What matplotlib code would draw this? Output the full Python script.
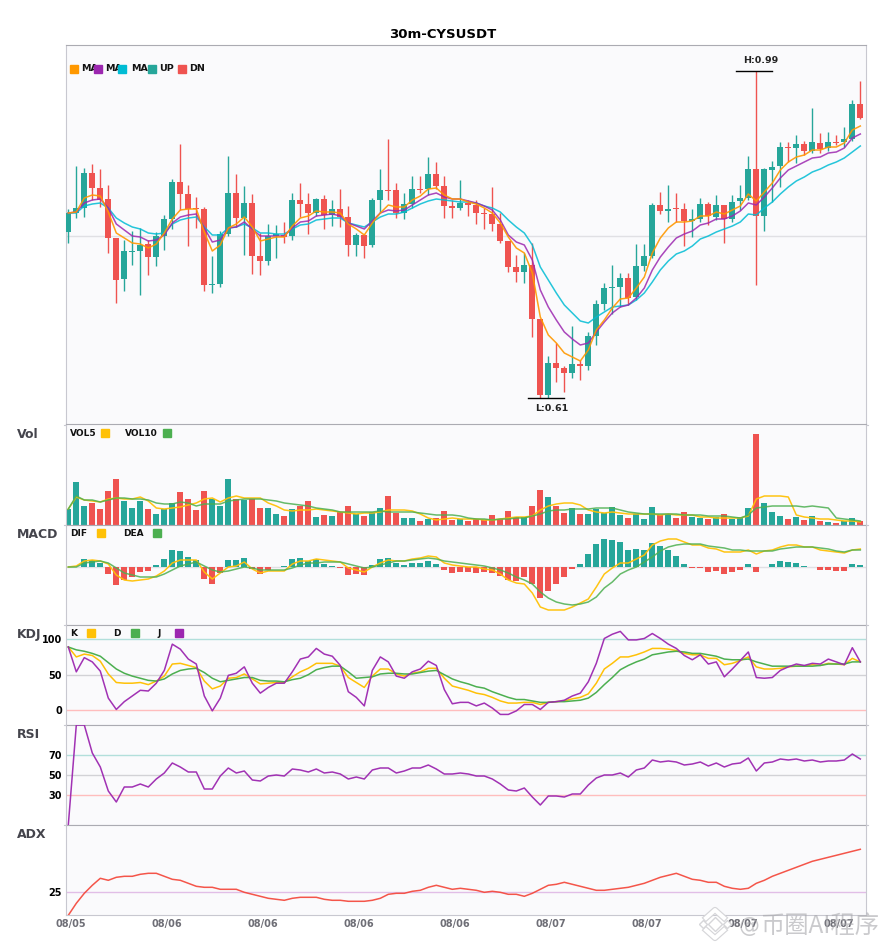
# -*- coding: UTF-8 -*-
import numpy as np
import matplotlib
matplotlib.use('Agg')
import matplotlib.pyplot as plt
import matplotlib.patheffects as pe
from matplotlib.lines import Line2D
from matplotlib.patches import Rectangle
from matplotlib.transforms import ScaledTranslation

# price data is read as steps above the session low, one step = PRICE_STEP
PRICE_LOW = 0.61
PRICE_HIGH = 0.99
open_steps = [166,185,190,225,210,199,160,119,146,147,154,141,162,179,216,204,190,189,113,114,
              164,205,180,195,142,137,162,163,162,198,194,185,199,183,189,181,153,163,153,198,
              208,208,185,194,209,209,224,212,192,190,195,193,185,184,174,157,131,126,133,79,
              3,35,30,25,34,32,62,94,110,111,120,101,132,142,193,187,190,189,177,179,
              194,181,193,179,197,200,229,182,228,232,251,250,254,247,255,250,256,256,259,294]
close_steps = [185,190,225,210,198,160,118,147,147,153,141,162,179,216,204,189,189,113,114,164,
               205,180,195,142,137,162,164,161,198,194,185,199,183,189,181,153,163,152,198,208,
               207,185,194,209,208,224,212,192,190,195,193,185,184,174,157,131,126,133,79,3,
               35,30,25,34,32,62,94,110,111,120,100,132,142,193,187,189,189,177,179,194,
               182,193,179,196,200,229,182,229,231,251,250,254,247,256,249,256,255,259,294,280]
high_steps = [189,232,230,234,229,213,160,158,167,170,158,166,183,219,254,213,201,191,142,167,
              242,224,212,204,165,174,173,176,205,215,205,200,203,198,209,192,165,164,200,229,
              259,215,205,222,222,241,236,222,198,218,198,198,190,211,185,157,143,145,155,79,
              42,55,32,72,38,66,98,115,133,125,125,154,154,195,206,213,205,195,189,200,
              196,203,193,203,213,242,327,230,237,256,256,263,257,290,265,266,263,271,298,317]
low_steps = [155,180,181,198,191,145,95,107,133,103,123,132,148,169,188,152,170,107,105,111,
             162,171,143,124,123,133,140,155,158,181,164,182,169,172,171,142,142,140,151,185,
             198,180,179,190,205,203,209,180,180,188,182,174,169,167,155,126,116,115,61,0,
             0,16,6,20,18,28,53,88,84,91,93,98,127,140,184,176,176,152,161,176,
             173,178,155,176,188,198,113,167,196,211,236,235,243,245,245,247,253,251,257,279]

ma5_steps = [185,186,200,203,202,186,165,160,155,154,150,154,165,179,188,189,189,166,147,153,
             170,174,181,171,157,159,161,161,172,180,182,187,186,186,185,174,169,163,175,185,
             193,191,191,198,202,209,210,203,199,199,196,194,190,185,175,161,150,145,125,81,
             63,55,45,41,37,48,68,78,90,99,100,110,121,145,160,170,176,176,177,182,
             182,186,184,188,192,204,197,206,215,228,236,241,243,248,248,251,251,255,268,272]
ma10_steps = [185,186,195,198,199,190,174,168,162,161,157,158,163,175,181,183,184,170,156,158,
              170,171,176,169,162,162,162,162,170,176,177,182,183,184,182,175,172,169,177,185,
              188,187,188,193,198,203,205,201,199,199,197,195,192,188,178,163,156,153,138,108,
              91,78,66,59,53,55,66,76,85,91,93,100,110,128,141,151,160,164,167,173,
              175,179,179,182,187,195,193,201,210,220,228,232,236,240,241,245,246,250,260,264]
ma20_steps = [185,185,192,194,195,190,180,175,171,169,165,164,165,174,178,180,181,171,163,163,
              170,171,174,170,165,165,164,164,169,173,174,178,179,180,180,175,173,171,176,181,
              184,184,186,190,194,197,199,198,197,196,196,195,192,190,186,178,171,165,153,131,
              118,105,93,85,77,75,81,86,91,92,93,98,105,116,128,137,144,147,152,159,
              162,166,169,172,176,184,183,190,196,204,211,217,221,226,229,233,236,240,246,252]

volume = [16,43,19,22,16,34,46,24,17,24,16,11,16,22,33,26,15,34,26,19,
          46,26,25,26,17,17,11,9,16,19,24,8,10,9,13,19,11,9,13,17,
          29,12,7,7,4,6,7,14,5,6,4,6,5,10,6,14,8,8,19,35,
          28,19,12,17,11,11,16,12,18,10,7,11,6,18,10,11,7,13,8,7,
          6,8,11,6,8,17,91,22,13,9,6,8,5,9,4,3,2,4,7,4]
vol5 = [16,28,25,24,23,26,27,26,26,28,24,17,16,17,18,20,22,26,27,23,
        27,29,27,27,27,22,19,15,14,15,15,16,15,14,13,12,11,12,12,13,
        15,15,15,14,11,7,5,6,7,6,6,6,5,5,6,7,8,8,9,15,
        19,21,22,22,20,15,13,12,13,12,11,11,11,11,10,11,10,10,10,8,
        8,7,7,7,7,9,26,29,29,29,28,10,8,7,6,6,5,4,4,3]
vol10 = [16,29,25,25,23,25,27,27,26,26,25,22,21,21,23,22,19,21,21,21,
         24,25,26,26,26,25,24,22,21,20,19,17,16,15,13,13,13,13,13,14,
         13,13,13,13,12,11,10,10,10,9,7,6,6,5,6,6,7,7,9,11,
         14,15,15,16,16,16,17,17,17,15,13,12,11,11,11,11,11,10,10,10,
         9,9,9,8,7,10,17,18,19,19,19,19,18,19,18,17,7,6,5,4]

macd_hist = [0,0,8,7,4,-7,-18,-13,-10,-5,-4,2,8,17,16,10,7,-12,-17,-6,
             7,7,9,-2,-7,-3,0,1,8,9,6,8,3,1,-1,-8,-7,-8,2,8,
             9,4,2,4,4,6,3,-3,-6,-5,-5,-6,-5,-6,-9,-13,-14,-10,-17,-31,
             -24,-17,-10,-2,3,13,23,28,27,25,17,18,17,24,21,17,11,3,-0.5,-0.5,
             -5,-4,-7,-5,-3,3,-5,0,3,6,5,4,1,0,-3,-3,-4,-4,3,2]
dif = [0,1,6,7,6,3,-8,-13,-14,-13,-12,-9,-4,4,7,7,7,-5,-12,-6,
       0,1,5,-2,-6,-4,-4,-4,3,6,6,8,7,6,5,-1,-3,-5,0,4,
       7,6,6,8,9,11,10,4,2,1,0,0,-2,-3,-7,-13,-16,-17,-26,-40,
       -43,-43,-43,-40,-36,-32,-20,-7,-1,4,4,8,12,22,26,28,28,25,22,22,
       19,18,15,15,15,17,13,16,17,20,22,22,20,20,17,16,15,14,17,18]
dea = [0,0,4,5,6,4,-1,-6,-8,-10,-10,-10,-7,-3,1,3,5,1,-3,-5,
       -4,-2,0,-1,-3,-3,-3,-3,-1,2,4,4,5,5,5,3,1,-1,0,2,
       4,6,6,7,8,9,8,6,5,4,3,2,1,-1,-3,-6,-10,-13,-17,-25,
       -31,-35,-37,-38,-37,-35,-30,-21,-15,-7,-3,0,5,10,16,20,22,23,23,23,
       21,20,19,17,17,16,16,16,16,18,19,20,20,20,19,18,16,15,17,17]

kdj_k = [89,75,79,77,69,51,39,38,38,39,36,41,48,65,66,63,60,41,30,34,
         45,46,51,44,37,38,39,39,47,54,59,66,66,66,62,46,39,32,48,58,
         58,51,48,52,54,59,59,45,34,31,28,24,22,18,13,10,10,11,11,8,
         11,12,13,16,18,23,38,58,66,75,75,78,82,87,87,86,84,80,78,78,
         73,73,64,66,70,75,61,58,58,59,61,62,62,64,63,66,65,64,73,68]
kdj_d = [89,85,83,80,76,67,58,52,48,45,42,41,44,51,56,58,59,53,45,40,
         42,44,46,46,42,41,41,40,43,45,50,57,60,62,62,54,45,46,47,51,
         52,52,51,51,53,55,56,50,44,40,37,33,31,26,22,18,15,15,13,11,
         11,12,12,13,14,17,25,36,46,57,63,68,72,78,80,82,83,82,80,80,
         78,76,72,71,71,72,68,65,62,62,62,62,62,62,63,65,65,65,68,68]
kdj_j = [89,54,74,68,55,17,1,12,20,28,27,38,56,93,86,72,65,20,-1,17,
         49,52,61,38,24,32,38,38,54,72,75,87,79,76,63,26,18,6,56,75,
         68,48,45,54,58,69,63,29,9,11,11,6,10,3,-6,-6,-1,8,8,1,
         11,12,14,20,24,40,66,101,107,111,99,99,101,108,101,93,87,77,71,78,
         65,68,47,58,70,82,46,45,46,56,61,65,63,66,65,72,68,64,88,68]

rsi = [0,100,100,72,58,34,23,38,38,41,38,46,52,62,58,53,53,36,36,49,
       57,52,54,45,44,49,50,49,56,55,53,56,52,53,51,46,48,46,55,57,
       57,52,54,57,57,60,56,51,51,52,51,49,49,46,41,35,34,37,28,20,
       29,29,28,31,31,40,47,50,50,52,48,55,57,65,63,64,63,60,61,63,
       59,62,58,61,62,67,54,62,63,66,65,66,64,65,63,64,64,65,71,66]
adx = [2,14,24,32,39,37,40,41,41,43,44,44,41,38,37,34,31,30,30,28,
       28,28,25,23,21,19,18,17,19,20,20,20,18,17,17,16,16,16,17,19,
       23,24,24,26,27,30,32,30,28,29,28,27,25,26,25,23,23,21,24,28,
       32,33,35,33,31,29,27,27,28,29,30,32,34,37,40,42,44,41,38,37,
       35,35,31,29,28,29,34,37,41,44,47,50,53,56,58,60,62,64,66,68]

date_ticks = [0, 12, 24, 36, 48, 60, 72, 84, 96]
date_labels = ['08/05', '08/06', '08/06', '08/06', '08/06', '08/07', '08/07', '08/07', '08/07']

UP = '#26A69A'
DN = '#EF5350'
ORANGE = '#FF9800'
PURPLE = '#9C27B0'
CYAN = '#00BCD4'
YELLOW = '#FFC107'
GREEN = '#4CAF50'
RED = '#F44336'
BG = '#FAFAFC'
W = 885.0
H = 950.0

step = (PRICE_HIGH - PRICE_LOW) / 327.0
o = PRICE_LOW + np.array(open_steps) * step
c = PRICE_LOW + np.array(close_steps) * step
hi = PRICE_LOW + np.array(high_steps) * step
lo = PRICE_LOW + np.array(low_steps) * step
x = np.arange(len(o))
colors = [UP if c[i] >= o[i] else DN for i in x]

fig = plt.figure(figsize=(8.85, 9.5), dpi=100, facecolor='white')


def panel(top, bottom):
    ax = fig.add_axes([65.5 / W, 1 - bottom / H, (866 - 65.5) / W, (bottom - top) / H])
    ax.set_facecolor(BG)
    ax.set_xlim(-0.35, 99.71)
    ax.set_xticks([])
    ax.set_yticks([])
    for s in ['left', 'right', 'bottom']:
        ax.spines[s].set_color('#C8C8D0')
    ax.spines['top'].set_color('#ABABB2')
    return ax


def fig_text(px, py, s, **kw):
    fig.text(px / W, 1 - py / H, s, va='center', fontweight='bold', **kw)


def square(px, py, color):
    fig.add_artist(Rectangle((px / W, 1 - (py + 4) / H), 8 / W, 8 / H, color=color,
                             transform=fig.transFigure, zorder=5))


def ylabels(ax, ticks):
    ax.set_yticks(ticks)
    ax.tick_params(axis='y', length=0, pad=2.5, labelsize=7)
    for t in ax.get_yticklabels():
        t.set_fontweight('bold')


# main candles
ax1 = panel(45, 424.5)
ax1.set_ylim(PRICE_LOW - 26.5 * step, PRICE_LOW + 353 * step)
ax1.axhline(PRICE_LOW + 162.5 * step, color='#E0E0E4', lw=1, zorder=1)
ax1.vlines(x, lo, hi, colors=colors, lw=1, zorder=2)
ax1.bar(x, c - o, bottom=o, width=0.75, color=colors, zorder=3)
ax1.plot(x, PRICE_LOW + np.array(ma20_steps) * step, color=CYAN, lw=1.1, alpha=0.85, zorder=4)
ax1.plot(x, PRICE_LOW + np.array(ma10_steps) * step, color=PURPLE, lw=1.1, alpha=0.85, zorder=4)
ax1.plot(x, PRICE_LOW + np.array(ma5_steps) * step, color=ORANGE, lw=1.1, alpha=0.9, zorder=4)
ih = int(np.argmax(hi))
il = int(np.argmin(lo))
ax1.plot([ih - 2.5, ih + 2], [hi[ih], hi[ih]], color='black', lw=1, zorder=5)
ax1.plot([il - 1.5, il + 2.9], [lo[il], lo[il]], color='black', lw=1, zorder=5)
ax1.annotate('H:%.2f' % hi[ih], (ih + 0.55, hi[ih]), xytext=(0, 4.5), textcoords='offset points',
             ha='center', va='bottom', fontsize=6.8, fontweight='bold', color='#222222')
ax1.annotate('L:%.2f' % lo[il], (il + 1.4, lo[il]), xytext=(0, -4), textcoords='offset points',
             ha='center', va='top', fontsize=6.8, fontweight='bold', color='#222222')
fig.text(442.5 / W, 1 - 34.5 / H, '30m-CYSUSDT', ha='center', va='center', fontsize=9.5, fontweight='bold')
for tx, sx, label, col in [(81, 70, 'MA', ORANGE), (105, 94, 'MA', PURPLE), (131, 118, 'MA', CYAN),
                           (159, 148, 'UP', UP), (189, 178, 'DN', DN)]:
    fig_text(tx, 68.8, label, fontsize=6.8, color='#111111')
    square(sx, 68.8, col)

# volume
ax2 = panel(424.5, 525)
ax2.set_ylim(0, 100.5)
ax2.bar(x, volume, width=0.75, color=colors, zorder=2)
ax2.plot(x, vol5, color=YELLOW, lw=1.1, alpha=0.95, zorder=3)
ax2.plot(x, vol10, color=GREEN, lw=1.1, alpha=0.85, zorder=3)
fig_text(17, 434.7, 'Vol', fontsize=9, color='#44444C')
fig_text(70, 433.5, 'VOL5', fontsize=6.5, color='#111111')
square(101, 433, YELLOW)
fig_text(125, 433.5, 'VOL10', fontsize=6.5, color='#111111')
square(163, 433, GREEN)

# macd
ax3 = panel(525, 625)
ax3.set_ylim(-58, 42)
ax3.axhline(0, color='#E0E0E4', lw=1, zorder=1)
ax3.bar(x, macd_hist, width=0.75, color=[UP if v >= 0 else DN for v in macd_hist], zorder=2)
ax3.plot(x, dif, color=YELLOW, lw=1.1, alpha=0.95, zorder=3)
ax3.plot(x, dea, color=GREEN, lw=1.1, alpha=0.85, zorder=3)
fig_text(17, 534.7, 'MACD', fontsize=9, color='#44444C')
fig_text(70, 533.5, 'DIF', fontsize=6.5, color='#111111')
square(97, 533, YELLOW)
fig_text(123, 533.5, 'DEA', fontsize=6.5, color='#111111')
square(153, 533, GREEN)

# kdj
ax4 = panel(625, 725)
ax4.set_ylim(-20.9, 120)
ax4.axhline(100, color='#B2DFDB', lw=1, zorder=1)
ax4.axhline(50, color='#D2D2D6', lw=1, zorder=1)
ax4.axhline(0, color='#FFBDBD', lw=1, zorder=1)
ax4.plot(x, kdj_k, color=YELLOW, lw=1.1, zorder=3)
ax4.plot(x, kdj_d, color=GREEN, lw=1.1, zorder=3)
ax4.plot(x, kdj_j, color=PURPLE, lw=1.1, alpha=0.95, zorder=3)
ylabels(ax4, [0, 50, 100])
fig_text(17, 634.7, 'KDJ', fontsize=9, color='#44444C')
fig_text(70, 633.5, 'K', fontsize=6.5, color='#111111')
square(87, 633, YELLOW)
fig_text(113, 633.5, 'D', fontsize=6.5, color='#111111')
square(131, 633, GREEN)
fig_text(157, 633.5, 'J', fontsize=6.5, color='#111111')
square(175, 633, PURPLE)

# rsi
ax5 = panel(725, 825)
ax5.set_ylim(0, 100)
ax5.axhline(70, color='#B2DFDB', lw=1, zorder=1)
ax5.axhline(50, color='#D2D2D6', lw=1, zorder=1)
ax5.axhline(30, color='#FFBDBD', lw=1, zorder=1)
ax5.plot(x, rsi, color=PURPLE, lw=1.1, alpha=0.95, zorder=3)
ylabels(ax5, [30, 50, 70])
fig_text(17, 734.7, 'RSI', fontsize=9, color='#44444C')

# adx
ax6 = panel(825, 915)
ax6.set_ylim(2.3, 92.3)
ax6.axhline(25, color='#E1BEE7', lw=1, zorder=1)
ax6.plot(x, adx, color=RED, lw=1.1, alpha=0.9, zorder=3)
ylabels(ax6, [25])
fig_text(17, 835, 'ADX', fontsize=9, color='#44444C')
ax6.set_xticks(date_ticks)
ax6.set_xticklabels(date_labels, fontsize=7, fontweight='bold', color='#6E6E76')
ax6.tick_params(axis='x', length=0, pad=3)
for t in ax6.get_xticklabels():
    t.set_transform(t.get_transform() + ScaledTranslation(2 / 72.0, 0, fig.dpi_scale_trans))

# little marks where the panels meet
for py in [424.5, 525, 625, 725, 825]:
    for x0, x1 in [(63.5, 65.5), (866, 868)]:
        fig.add_artist(Line2D([x0 / W, x1 / W], [1 - py / H, 1 - py / H], color='#C8C8D0', lw=0.8,
                              transform=fig.transFigure))

# watermark bottom right, see-through so the date labels stay readable
wm = '#A8A8AC'
fig.text(820 / W, 1 - 926 / H, '币圈AI程序', ha='center', va='center', fontsize=17.5,
         family=['Noto Sans CJK SC', 'DejaVu Sans'], color=wm, alpha=0.6, zorder=10)
fig.text(749 / W, 1 - 926 / H, '@', ha='center', va='center', fontsize=15, color=wm, alpha=0.6, zorder=10)
logo = [pe.withStroke(linewidth=4.5, foreground='#D6D6D9')]
for xs, ys in [([706, 715, 724], [918, 910, 918]), ([706, 715, 724], [930, 938, 930])]:
    fig.add_artist(Line2D([v / W for v in xs], [1 - v / H for v in ys], color='white', lw=2.8,
                          path_effects=logo, transform=fig.transFigure, zorder=10))
for dx, ms in [(0, 7), (-12, 4.5), (12, 4.5)]:
    fig.add_artist(Line2D([(715 + dx) / W], [1 - 924 / H], marker='D', ms=ms, mfc='white', mec='#D6D6D9',
                          mew=1, ls='none', transform=fig.transFigure, zorder=10))

fig.savefig('out.png', dpi=100, facecolor='white')
